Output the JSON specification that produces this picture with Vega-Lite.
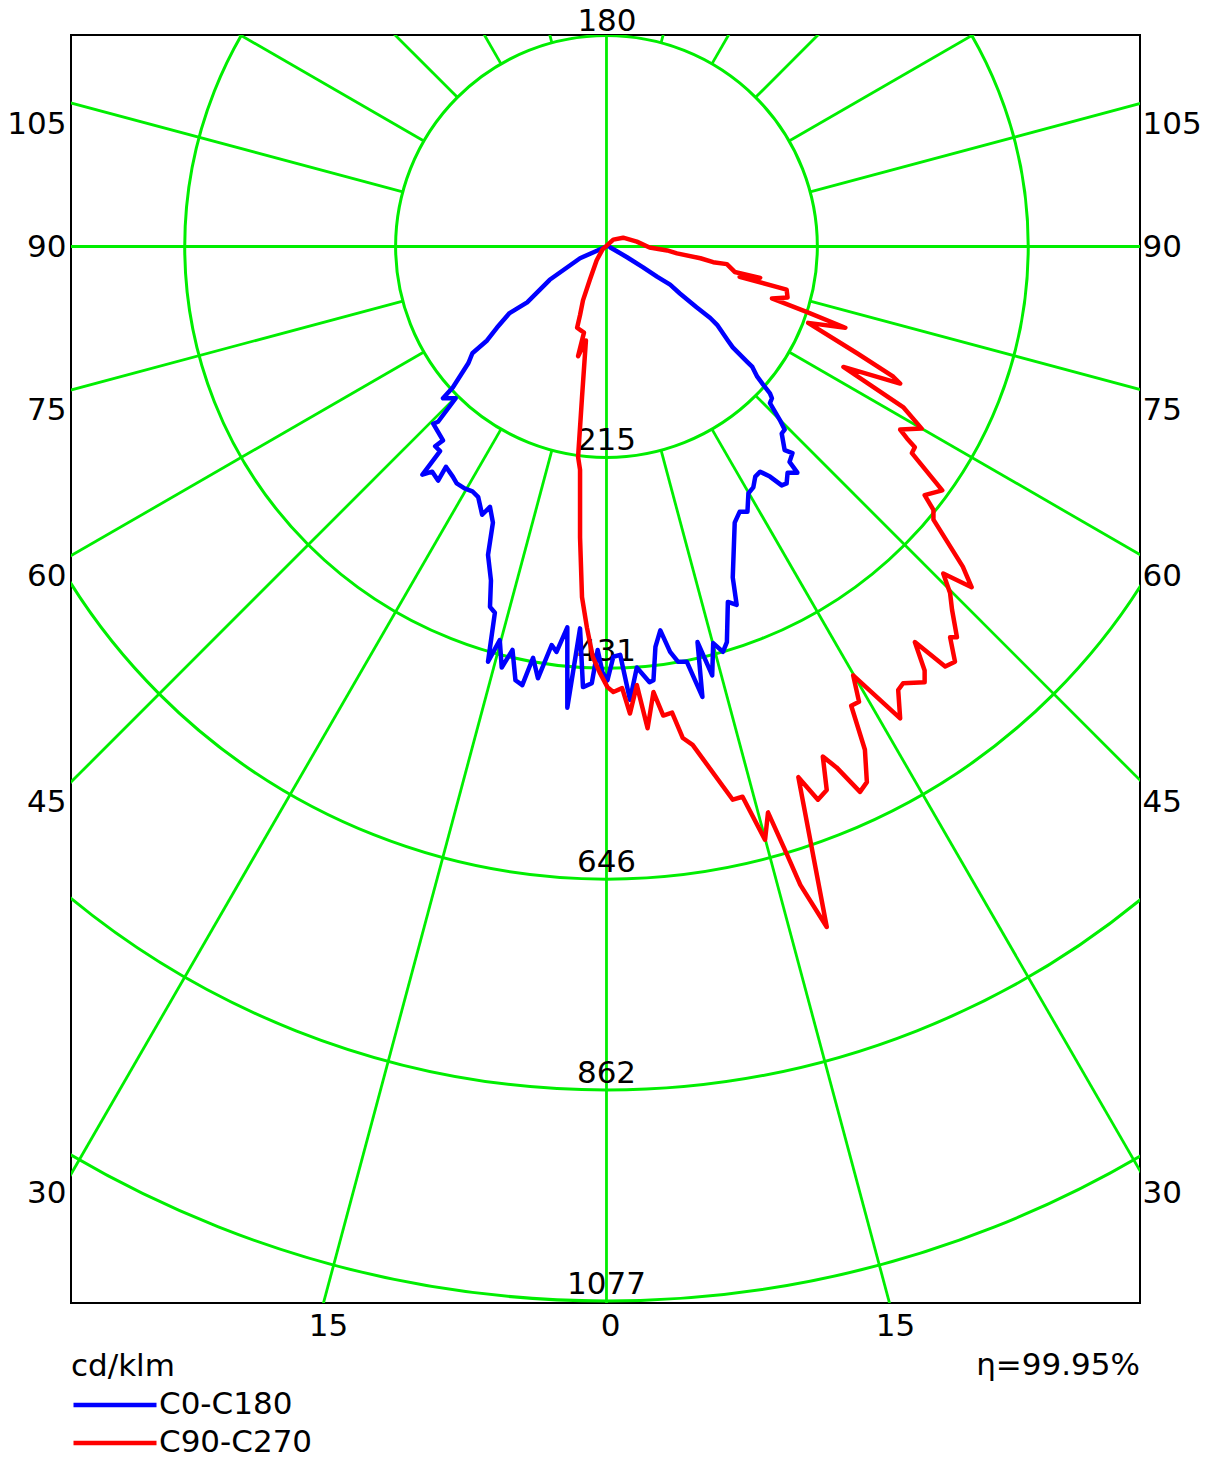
{
  "$schema": "https://vega.github.io/schema/vega-lite/v6.json",
  "width": 1069,
  "height": 1268,
  "autosize": {"type": "none"},
  "padding": {"left": 71, "top": 35, "right": 67, "bottom": 158},
  "background": "white",
  "config": {
    "font": "DejaVu Sans",
    "view": {"stroke": "black", "strokeWidth": 2},
    "axis": {"domain": false, "ticks": false, "tickSize": 0, "grid": false, "labelFontSize": 31, "labelColor": "black", "labelFont": "DejaVu Sans", "labelOverlap": false, "labelFlush": false}
  },
  "datasets": {
    "rings": [
      {"r": 215.4, "label": "215"},
      {"r": 430.8, "label": "431"},
      {"r": 646.2, "label": "646"},
      {"r": 861.6, "label": "862"},
      {"r": 1077, "label": "1077"}
    ],
    "spokes": [
      {"x1": 0, "y1": -1500, "x2": 0, "y2": 1500},
      {"x1": -1500, "y1": 0, "x2": 1500, "y2": 0},
      {"x1": 55.75, "y1": -208.06, "x2": 388.2, "y2": -1448.9},
      {"x1": 107.7, "y1": -186.54, "x2": 750, "y2": -1299},
      {"x1": 152.31, "y1": -152.31, "x2": 1060.7, "y2": -1060.7},
      {"x1": 186.54, "y1": -107.7, "x2": 1299, "y2": -750},
      {"x1": 208.06, "y1": -55.75, "x2": 1448.9, "y2": -388.2},
      {"x1": 208.06, "y1": 55.75, "x2": 1448.9, "y2": 388.2},
      {"x1": 186.54, "y1": 107.7, "x2": 1299, "y2": 750},
      {"x1": 152.31, "y1": 152.31, "x2": 1060.7, "y2": 1060.7},
      {"x1": 107.7, "y1": 186.54, "x2": 750, "y2": 1299},
      {"x1": 55.75, "y1": 208.06, "x2": 388.2, "y2": 1448.9},
      {"x1": -55.75, "y1": -208.06, "x2": -388.2, "y2": -1448.9},
      {"x1": -107.7, "y1": -186.54, "x2": -750, "y2": -1299},
      {"x1": -152.31, "y1": -152.31, "x2": -1060.7, "y2": -1060.7},
      {"x1": -186.54, "y1": -107.7, "x2": -1299, "y2": -750},
      {"x1": -208.06, "y1": -55.75, "x2": -1448.9, "y2": -388.2},
      {"x1": -208.06, "y1": 55.75, "x2": -1448.9, "y2": 388.2},
      {"x1": -186.54, "y1": 107.7, "x2": -1299, "y2": 750},
      {"x1": -152.31, "y1": 152.31, "x2": -1060.7, "y2": 1060.7},
      {"x1": -107.7, "y1": 186.54, "x2": -750, "y2": 1299},
      {"x1": -55.75, "y1": 208.06, "x2": -388.2, "y2": 1448.9}
    ],
    "curves": [
      {"s":"C0-C180","i":1,"x":0,"y":0},
      {"s":"C0-C180","i":2,"x":-27,"y":-12},
      {"s":"C0-C180","i":3,"x":-58,"y":-34},
      {"s":"C0-C180","i":4,"x":-81,"y":-57},
      {"s":"C0-C180","i":5,"x":-99,"y":-68},
      {"s":"C0-C180","i":6,"x":-112,"y":-83},
      {"s":"C0-C180","i":7,"x":-122,"y":-96},
      {"s":"C0-C180","i":8,"x":-137,"y":-109},
      {"s":"C0-C180","i":9,"x":-141,"y":-119},
      {"s":"C0-C180","i":10,"x":-157,"y":-144},
      {"s":"C0-C180","i":11,"x":-167,"y":-155},
      {"s":"C0-C180","i":12,"x":-154,"y":-155},
      {"s":"C0-C180","i":13,"x":-172,"y":-179},
      {"s":"C0-C180","i":14,"x":-177,"y":-181},
      {"s":"C0-C180","i":15,"x":-167,"y":-198},
      {"s":"C0-C180","i":16,"x":-175,"y":-204},
      {"s":"C0-C180","i":17,"x":-170,"y":-209},
      {"s":"C0-C180","i":18,"x":-188,"y":-233},
      {"s":"C0-C180","i":19,"x":-178,"y":-230},
      {"s":"C0-C180","i":20,"x":-172,"y":-239},
      {"s":"C0-C180","i":21,"x":-164,"y":-225},
      {"s":"C0-C180","i":22,"x":-157,"y":-235},
      {"s":"C0-C180","i":23,"x":-153,"y":-242},
      {"s":"C0-C180","i":24,"x":-145,"y":-247},
      {"s":"C0-C180","i":25,"x":-137,"y":-250},
      {"s":"C0-C180","i":26,"x":-131,"y":-256},
      {"s":"C0-C180","i":27,"x":-127,"y":-274},
      {"s":"C0-C180","i":28,"x":-119,"y":-266},
      {"s":"C0-C180","i":29,"x":-116,"y":-282},
      {"s":"C0-C180","i":30,"x":-121,"y":-315},
      {"s":"C0-C180","i":31,"x":-118,"y":-341},
      {"s":"C0-C180","i":32,"x":-119,"y":-368},
      {"s":"C0-C180","i":33,"x":-114,"y":-374},
      {"s":"C0-C180","i":34,"x":-121,"y":-424},
      {"s":"C0-C180","i":35,"x":-109,"y":-402},
      {"s":"C0-C180","i":36,"x":-107,"y":-430},
      {"s":"C0-C180","i":37,"x":-96,"y":-412},
      {"s":"C0-C180","i":38,"x":-93,"y":-443},
      {"s":"C0-C180","i":39,"x":-86,"y":-448},
      {"s":"C0-C180","i":40,"x":-75,"y":-420},
      {"s":"C0-C180","i":41,"x":-70,"y":-441},
      {"s":"C0-C180","i":42,"x":-56,"y":-407},
      {"s":"C0-C180","i":43,"x":-51,"y":-414},
      {"s":"C0-C180","i":44,"x":-40,"y":-389},
      {"s":"C0-C180","i":45,"x":-40,"y":-471},
      {"s":"C0-C180","i":46,"x":-27,"y":-390},
      {"s":"C0-C180","i":47,"x":-24,"y":-450},
      {"s":"C0-C180","i":48,"x":-15,"y":-446},
      {"s":"C0-C180","i":49,"x":-9,"y":-412},
      {"s":"C0-C180","i":50,"x":-4,"y":-435},
      {"s":"C0-C180","i":51,"x":1,"y":-443},
      {"s":"C0-C180","i":52,"x":7,"y":-419},
      {"s":"C0-C180","i":53,"x":14,"y":-417},
      {"s":"C0-C180","i":54,"x":24,"y":-463},
      {"s":"C0-C180","i":55,"x":31,"y":-430},
      {"s":"C0-C180","i":56,"x":44,"y":-445},
      {"s":"C0-C180","i":57,"x":48,"y":-443},
      {"s":"C0-C180","i":58,"x":50,"y":-409},
      {"s":"C0-C180","i":59,"x":55,"y":-392},
      {"s":"C0-C180","i":60,"x":65,"y":-414},
      {"s":"C0-C180","i":61,"x":73,"y":-424},
      {"s":"C0-C180","i":62,"x":82,"y":-424},
      {"s":"C0-C180","i":63,"x":98,"y":-460},
      {"s":"C0-C180","i":64,"x":93,"y":-404},
      {"s":"C0-C180","i":65,"x":108,"y":-438},
      {"s":"C0-C180","i":66,"x":109,"y":-405},
      {"s":"C0-C180","i":67,"x":119,"y":-414},
      {"s":"C0-C180","i":68,"x":123,"y":-404},
      {"s":"C0-C180","i":69,"x":124,"y":-363},
      {"s":"C0-C180","i":70,"x":133,"y":-366},
      {"s":"C0-C180","i":71,"x":129,"y":-338},
      {"s":"C0-C180","i":72,"x":131,"y":-282},
      {"s":"C0-C180","i":73,"x":136,"y":-271},
      {"s":"C0-C180","i":74,"x":144,"y":-271},
      {"s":"C0-C180","i":75,"x":145,"y":-252},
      {"s":"C0-C180","i":76,"x":150,"y":-246},
      {"s":"C0-C180","i":77,"x":152,"y":-235},
      {"s":"C0-C180","i":78,"x":157,"y":-230},
      {"s":"C0-C180","i":79,"x":167,"y":-235},
      {"s":"C0-C180","i":80,"x":179,"y":-244},
      {"s":"C0-C180","i":81,"x":184,"y":-242},
      {"s":"C0-C180","i":82,"x":185,"y":-231},
      {"s":"C0-C180","i":83,"x":195,"y":-231},
      {"s":"C0-C180","i":84,"x":187,"y":-220},
      {"s":"C0-C180","i":85,"x":190,"y":-211},
      {"s":"C0-C180","i":86,"x":182,"y":-208},
      {"s":"C0-C180","i":87,"x":179,"y":-191},
      {"s":"C0-C180","i":88,"x":182,"y":-187},
      {"s":"C0-C180","i":89,"x":177,"y":-177},
      {"s":"C0-C180","i":90,"x":167,"y":-160},
      {"s":"C0-C180","i":91,"x":169,"y":-155},
      {"s":"C0-C180","i":92,"x":167,"y":-150},
      {"s":"C0-C180","i":93,"x":160,"y":-141},
      {"s":"C0-C180","i":94,"x":154,"y":-133},
      {"s":"C0-C180","i":95,"x":149,"y":-123},
      {"s":"C0-C180","i":96,"x":144,"y":-118},
      {"s":"C0-C180","i":97,"x":129,"y":-103},
      {"s":"C0-C180","i":98,"x":124,"y":-96},
      {"s":"C0-C180","i":99,"x":113,"y":-80},
      {"s":"C0-C180","i":100,"x":106,"y":-73},
      {"s":"C0-C180","i":101,"x":92,"y":-62},
      {"s":"C0-C180","i":102,"x":75,"y":-48},
      {"s":"C0-C180","i":103,"x":65,"y":-39},
      {"s":"C0-C180","i":104,"x":52,"y":-31},
      {"s":"C0-C180","i":105,"x":37,"y":-21},
      {"s":"C0-C180","i":106,"x":21,"y":-11},
      {"s":"C0-C180","i":107,"x":4,"y":-1},
      {"s":"C90-C270","i":1,"x":-4,"y":-3},
      {"s":"C90-C270","i":2,"x":7,"y":7},
      {"s":"C90-C270","i":3,"x":17,"y":9},
      {"s":"C90-C270","i":4,"x":31,"y":5},
      {"s":"C90-C270","i":5,"x":44,"y":-1},
      {"s":"C90-C270","i":6,"x":62,"y":-4},
      {"s":"C90-C270","i":7,"x":72,"y":-7},
      {"s":"C90-C270","i":8,"x":96,"y":-12},
      {"s":"C90-C270","i":9,"x":109,"y":-16},
      {"s":"C90-C270","i":10,"x":123,"y":-18},
      {"s":"C90-C270","i":11,"x":131,"y":-26},
      {"s":"C90-C270","i":12,"x":157,"y":-32},
      {"s":"C90-C270","i":13,"x":136,"y":-31},
      {"s":"C90-C270","i":14,"x":184,"y":-44},
      {"s":"C90-C270","i":15,"x":185,"y":-52},
      {"s":"C90-C270","i":16,"x":169,"y":-53},
      {"s":"C90-C270","i":17,"x":205,"y":-67},
      {"s":"C90-C270","i":18,"x":244,"y":-83},
      {"s":"C90-C270","i":19,"x":206,"y":-78},
      {"s":"C90-C270","i":20,"x":256,"y":-109},
      {"s":"C90-C270","i":21,"x":293,"y":-133},
      {"s":"C90-C270","i":22,"x":300,"y":-140},
      {"s":"C90-C270","i":23,"x":242,"y":-123},
      {"s":"C90-C270","i":24,"x":303,"y":-164},
      {"s":"C90-C270","i":25,"x":322,"y":-186},
      {"s":"C90-C270","i":26,"x":300,"y":-187},
      {"s":"C90-C270","i":27,"x":307,"y":-196},
      {"s":"C90-C270","i":28,"x":315,"y":-205},
      {"s":"C90-C270","i":29,"x":312,"y":-211},
      {"s":"C90-C270","i":30,"x":343,"y":-249},
      {"s":"C90-C270","i":31,"x":325,"y":-254},
      {"s":"C90-C270","i":32,"x":334,"y":-269},
      {"s":"C90-C270","i":33,"x":334,"y":-279},
      {"s":"C90-C270","i":34,"x":364,"y":-327},
      {"s":"C90-C270","i":35,"x":373,"y":-348},
      {"s":"C90-C270","i":36,"x":344,"y":-334},
      {"s":"C90-C270","i":37,"x":351,"y":-354},
      {"s":"C90-C270","i":38,"x":353,"y":-371},
      {"s":"C90-C270","i":39,"x":358,"y":-399},
      {"s":"C90-C270","i":40,"x":351,"y":-399},
      {"s":"C90-C270","i":41,"x":356,"y":-424},
      {"s":"C90-C270","i":42,"x":346,"y":-429},
      {"s":"C90-C270","i":43,"x":315,"y":-404},
      {"s":"C90-C270","i":44,"x":325,"y":-433},
      {"s":"C90-C270","i":45,"x":325,"y":-445},
      {"s":"C90-C270","i":46,"x":303,"y":-446},
      {"s":"C90-C270","i":47,"x":298,"y":-453},
      {"s":"C90-C270","i":48,"x":300,"y":-482},
      {"s":"C90-C270","i":49,"x":252,"y":-438},
      {"s":"C90-C270","i":50,"x":258,"y":-465},
      {"s":"C90-C270","i":51,"x":250,"y":-469},
      {"s":"C90-C270","i":52,"x":264,"y":-514},
      {"s":"C90-C270","i":53,"x":266,"y":-547},
      {"s":"C90-C270","i":54,"x":259,"y":-557},
      {"s":"C90-C270","i":55,"x":235,"y":-532},
      {"s":"C90-C270","i":56,"x":221,"y":-521},
      {"s":"C90-C270","i":57,"x":225,"y":-555},
      {"s":"C90-C270","i":58,"x":216,"y":-565},
      {"s":"C90-C270","i":59,"x":196,"y":-542},
      {"s":"C90-C270","i":60,"x":225,"y":-695},
      {"s":"C90-C270","i":61,"x":198,"y":-652},
      {"s":"C90-C270","i":62,"x":184,"y":-620},
      {"s":"C90-C270","i":63,"x":165,"y":-578},
      {"s":"C90-C270","i":64,"x":162,"y":-606},
      {"s":"C90-C270","i":65,"x":139,"y":-562},
      {"s":"C90-C270","i":66,"x":129,"y":-565},
      {"s":"C90-C270","i":67,"x":88,"y":-509},
      {"s":"C90-C270","i":68,"x":78,"y":-502},
      {"s":"C90-C270","i":69,"x":67,"y":-476},
      {"s":"C90-C270","i":70,"x":58,"y":-479},
      {"s":"C90-C270","i":71,"x":48,"y":-455},
      {"s":"C90-C270","i":72,"x":42,"y":-492},
      {"s":"C90-C270","i":73,"x":31,"y":-448},
      {"s":"C90-C270","i":74,"x":24,"y":-477},
      {"s":"C90-C270","i":75,"x":16,"y":-451},
      {"s":"C90-C270","i":76,"x":7,"y":-455},
      {"s":"C90-C270","i":77,"x":1,"y":-450},
      {"s":"C90-C270","i":78,"x":-7,"y":-435},
      {"s":"C90-C270","i":79,"x":-14,"y":-419},
      {"s":"C90-C270","i":80,"x":-20,"y":-389},
      {"s":"C90-C270","i":81,"x":-25,"y":-358},
      {"s":"C90-C270","i":82,"x":-27,"y":-297},
      {"s":"C90-C270","i":83,"x":-27,"y":-228},
      {"s":"C90-C270","i":84,"x":-29,"y":-215},
      {"s":"C90-C270","i":85,"x":-25,"y":-154},
      {"s":"C90-C270","i":86,"x":-21,"y":-96},
      {"s":"C90-C270","i":87,"x":-29,"y":-112},
      {"s":"C90-C270","i":88,"x":-23,"y":-88},
      {"s":"C90-C270","i":89,"x":-30,"y":-83},
      {"s":"C90-C270","i":90,"x":-27,"y":-70},
      {"s":"C90-C270","i":91,"x":-24,"y":-55},
      {"s":"C90-C270","i":92,"x":-17,"y":-34},
      {"s":"C90-C270","i":93,"x":-10,"y":-14},
      {"s":"C90-C270","i":94,"x":-4,"y":-3}
    ],
    "notes": [{"eta": "η=99.95%"}]
  },
  "layer": [
    {
      "data": {"name": "rings"},
      "mark": {"type": "point", "shape": "circle", "filled": false, "stroke": "#00ee00", "strokeWidth": 3, "opacity": 1, "clip": true},
      "encoding": {
        "x": {"datum": 0, "type": "quantitative", "scale": {"domain": [-547, 545], "nice": false, "zero": false}, "axis": null},
        "y": {"datum": 0, "type": "quantitative", "scale": {"domain": [-1079, 216], "nice": false, "zero": false}, "axis": null},
        "size": {"field": "r", "type": "quantitative", "legend": null, "scale": {"type": "pow", "exponent": 2, "domain": [0, 1077], "range": [0, 4447037], "zero": true}}
      }
    },
    {
      "data": {"name": "spokes"},
      "mark": {"type": "rule", "stroke": "#00ee00", "strokeWidth": 2.8, "clip": true},
      "encoding": {
        "x": {"field": "x1", "type": "quantitative", "scale": {"domain": [-547, 545], "nice": false, "zero": false},
              "axis": {"orient": "bottom", "title": null, "values": [-284.5, 3.6, 294.7], "labelExpr": "abs(datum.value) > 100 ? '15' : '0'", "labelPadding": 8}},
        "y": {"field": "y1", "type": "quantitative", "scale": {"domain": [-1079, 216], "nice": false, "zero": false},
              "axis": {"orient": "left", "title": null, "values": [125.1, -1.5, -167, -336.6, -567.5, -966.8], "labelExpr": "datum.value > 100 ? '105' : datum.value > -50 ? '90' : datum.value > -250 ? '75' : datum.value > -450 ? '60' : datum.value > -700 ? '45' : '30'", "labelPadding": 5}},
        "x2": {"field": "x2"},
        "y2": {"field": "y2"}
      }
    },
    {
      "data": {"name": "rings"},
      "mark": {"type": "text", "fontSize": 31, "align": "center", "baseline": "middle", "radiusOffset": -16, "color": "black"},
      "encoding": {
        "x": {"datum": 0, "type": "quantitative", "scale": {"domain": [-547, 545], "nice": false, "zero": false}, "axis": null},
        "y": {"datum": 0, "type": "quantitative", "scale": {"domain": [-1079, 216], "nice": false, "zero": false}, "axis": null},
        "radius": {"field": "r", "type": "quantitative", "scale": {"type": "linear", "domain": [0, 1077], "range": [0, 1054.4], "zero": true}},
        "theta": {"value": 3.14159},
        "text": {"field": "label"}
      }
    },
    {
      "data": {"name": "curves"},
      "mark": {"type": "line", "strokeWidth": 4.5, "strokeJoin": "round", "strokeCap": "round"},
      "encoding": {
        "x": {"field": "x", "type": "quantitative", "scale": {"domain": [-547, 545], "nice": false, "zero": false},
              "axis": {"orient": "top", "title": null, "values": [0], "labelExpr": "'180'", "labelPadding": -2}},
        "y": {"field": "y", "type": "quantitative", "scale": {"domain": [-1079, 216], "nice": false, "zero": false},
              "axis": {"orient": "right", "title": null, "values": [125.1, -1.5, -167, -336.6, -567.5, -966.8], "labelExpr": "datum.value > 100 ? '105' : datum.value > -50 ? '90' : datum.value > -250 ? '75' : datum.value > -450 ? '60' : datum.value > -700 ? '45' : '30'", "labelPadding": 2}},
        "order": {"field": "i", "type": "quantitative"},
        "color": {"field": "s", "type": "nominal",
                  "scale": {"domain": ["C0-C180", "C90-C270"], "range": ["#0000ff", "#ff0000"]},
                  "legend": {"orient": "none", "legendX": 0, "legendY": 1317, "direction": "vertical", "title": "cd/klm", "titleFontSize": 31, "titleFontWeight": "normal", "titleColor": "black", "titleFont": "DejaVu Sans", "labelFontSize": 31, "labelColor": "black", "labelFont": "DejaVu Sans", "symbolType": "stroke", "symbolSize": 6889, "symbolStrokeWidth": 4.5, "clipHeight": 32, "labelOffset": 0, "rowPadding": 6, "titlePadding": 6, "padding": 0}}
      }
    },
    {
      "data": {"name": "notes"},
      "mark": {"type": "text", "fontSize": 31, "align": "right", "baseline": "middle", "color": "black"},
      "encoding": {
        "x": {"datum": 545, "type": "quantitative", "scale": {"domain": [-547, 545], "nice": false, "zero": false}, "axis": null},
        "y": {"datum": -1143.6, "type": "quantitative", "scale": {"domain": [-1079, 216], "nice": false, "zero": false}, "axis": null},
        "text": {"field": "eta"}
      }
    }
  ],
  "resolve": {"axis": {"x": "independent", "y": "independent"}}
}
